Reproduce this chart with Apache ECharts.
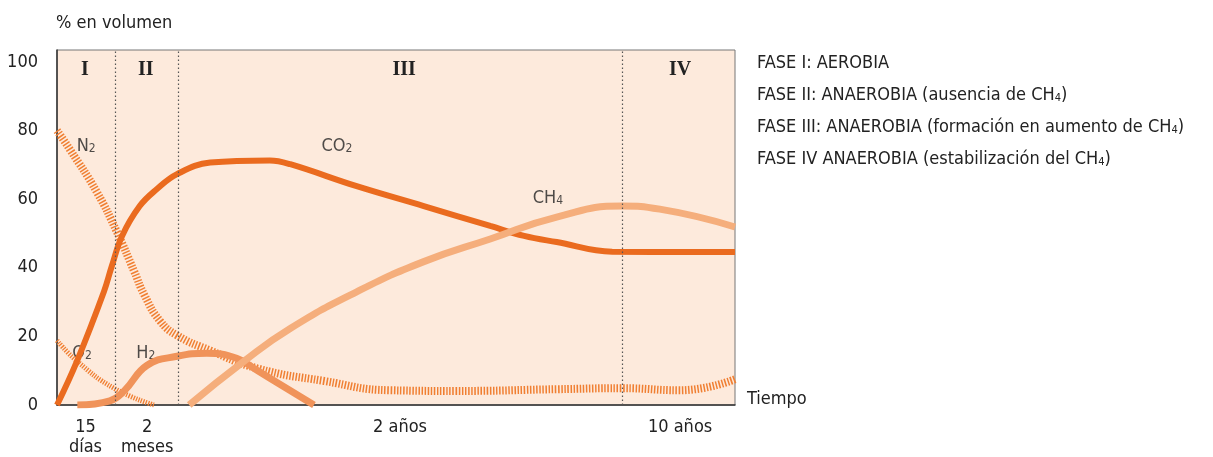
<!DOCTYPE html>
<html lang="es">
<head>
	<meta charset="utf-8" />
	<title>Fases del gas de vertedero</title>
	<style>
		html, body { margin: 0; padding: 0; background: #fff; }
		#chart { width: 1213px; height: 457px; }
	</style>
</head>
<body>
	<div id="chart"></div>
	<script src="https://cdn.jsdelivr.net/npm/echarts@6/dist/echarts.min.js"></script>
	<script>
		var FONT = '"DejaVu Sans Condensed", "Liberation Sans", sans-serif';

		// x en escala 0-100 (eje de tiempo no lineal), y en % en volumen
		var co2 = [[0, 0], [2.95, 12.8], [6.93, 33.1], [8.1, 40.6], [9.6, 49.3], [12.2, 58], [14.7, 62.9],
			[17.7, 67.3], [22.6, 70.7], [31.4, 71.3], [34.4, 70.2], [44.2, 63.8], [54.1, 58],
			[63.9, 52.2], [68.9, 49.3], [73.7, 47.5], [81.9, 44.7], [100, 44.6]];
		var ch4 = [[19.5, 0], [27.6, 12.8], [34.4, 22.3], [44.2, 33], [54.1, 41.8], [63.9, 48.4],
			[73.7, 54.8], [83.3, 58], [88.9, 57.1], [100, 51.9]];
		var n2 = [[0, 80], [1.9, 74.5], [5.9, 62], [8.85, 50.4], [11.4, 38.9], [12.9, 32], [15.2, 24.5],
			[17.7, 20.3], [22.6, 15.9], [29.5, 10.7], [39.4, 7], [49.1, 4.3], [59, 4.1], [73.7, 4.6],
			[83.3, 4.9], [91.9, 4.3], [100, 7.5]];
		var o2 = [[0, 18.8], [2.95, 12.8], [8.4, 4.9], [14.3, 0]];
		var h2 = [[3, 0], [7.8, 1.2], [9.9, 4.1], [13.3, 11.6], [17.7, 14.2], [22.1, 15.1], [26.5, 13.6],
			[29.5, 10.1], [37.9, 0]];

		var phaseLimits = [8.55, 17.85, 83.3];
		var phaseCenters = [4.1, 13.1, 51.2, 91.9];
		var phaseNames = ['I', 'II', 'III', 'IV'];
		var timeTicks = [4.2, 13.3, 50.6, 91.9];
		var timeLabels = ['15\ndías', '2\nmeses', '2 años', '10 años'];

		// etiquetas de gases: [x, y, texto, subíndice]
		var gasLabels = [[4.3, 75.5, 'N', '2'], [41.3, 75.5, 'CO', '2'], [72.4, 60.2, 'CH', '4'],
			[3.7, 15, 'O', '2'], [13.1, 15, 'H', '2']];

		var phaseText = [
			['FASE I: AEROBIA', ''],
			['FASE II: ANAEROBIA (ausencia de CH', '4', ')'],
			['FASE III: ANAEROBIA (formación en aumento de CH', '4', ')'],
			['FASE IV ANAEROBIA (estabilización del CH', '4', ')']
		];

		var legendText = phaseText.map(function (p) {
			var s = '{t|' + p[0] + '}';
			if (p[1]) s += '{s|' + p[1] + '}{t|' + p[2] + '}';
			return s;
		}).join('\n');

		var myChart = echarts.init(document.getElementById('chart'));

		var option = {
			animation: false,
			textStyle: { fontFamily: FONT },
			title: [{
				text: '% en volumen',
				left: 51,
				top: 9,
				textStyle: { fontFamily: FONT, fontSize: 18, fontWeight: 'normal', color: '#222' }
			}, {
				text: legendText,
				left: 752,
				top: 42,
				textStyle: {
					fontWeight: 'normal',
					rich: {
						t: { fontFamily: FONT, fontSize: 18, fontWeight: 'normal', color: '#222', lineHeight: 32 },
						s: { fontFamily: FONT, fontSize: 11, fontWeight: 'normal', color: '#222', lineHeight: 32, padding: [6, 0, 0, 0] }
					}
				}
			}],
			grid: {
				left: 57,
				right: 478,
				top: 50,
				bottom: 50,
				show: true,
				backgroundColor: '#fdeadc',
				borderColor: '#777',
				borderWidth: 1
			},
			xAxis: [{
				type: 'value',
				min: 0,
				max: 100,
				splitLine: { show: false },
				axisTick: { show: false },
				axisLine: { show: true, lineStyle: { color: '#333', width: 1.5 } },
				name: 'Tiempo',
				nameLocation: 'end',
				nameGap: 12,
				nameTextStyle: { fontFamily: FONT, fontSize: 18, color: '#222', verticalAlign: 'bottom', lineHeight: 12 },
				axisLabel: {
					customValues: timeTicks,
					formatter: function (v) {
						var i = timeTicks.indexOf(v);
						return i >= 0 ? timeLabels[i] : '';
					},
					fontFamily: FONT,
					fontSize: 18,
					lineHeight: 20,
					color: '#222',
					margin: 12
				}
			}, {
				type: 'value',
				position: 'top',
				min: 0,
				max: 100,
				splitLine: { show: false },
				axisTick: { show: false },
				axisLine: { show: false },
				axisLabel: {
					inside: true,
					customValues: phaseCenters,
					formatter: function (v) {
						var i = phaseCenters.indexOf(v);
						return i >= 0 ? phaseNames[i] : '';
					},
					fontFamily: '"Liberation Serif", "DejaVu Serif", serif',
					fontWeight: 'bold',
					fontSize: 20,
					color: '#222',
					margin: 10
				}
			}],
			yAxis: {
				type: 'value',
				min: 0,
				max: 103.5,
				interval: 20,
				splitLine: { show: false },
				axisTick: { show: false },
				axisLine: { show: true, lineStyle: { color: '#333', width: 1.5 } },
				axisLabel: {
					formatter: function (v) { return v % 20 === 0 ? v : ''; },
					fontFamily: FONT,
					fontSize: 18,
					color: '#222',
					margin: 19
				}
			},
			series: [{
				name: 'N2',
				type: 'line',
				smooth: 0.5,
				symbol: 'none',
				data: n2,
				lineStyle: { color: '#f07f32', width: 8, type: [1.5, 1.6], cap: 'butt' },
				markLine: {
					silent: true,
					symbol: 'none',
					label: { show: false },
					lineStyle: { color: '#555', type: [1.5, 2.5], width: 1.2 },
					data: phaseLimits.map(function (x) { return { xAxis: x }; })
				}
			}, {
				name: 'O2',
				type: 'line',
				smooth: 0.5,
				symbol: 'none',
				data: o2,
				lineStyle: { color: '#f07f32', width: 5, type: [1.3, 1.3], cap: 'butt' }
			}, {
				name: 'H2',
				type: 'line',
				smooth: 0.45,
				symbol: 'none',
				data: h2,
				lineStyle: { color: '#f0935a', width: 7 }
			}, {
				name: 'CO2',
				type: 'line',
				smooth: 0.4,
				symbol: 'none',
				data: co2,
				lineStyle: { color: '#ea6b1f', width: 6 }
			}, {
				name: 'CH4',
				type: 'line',
				smooth: 0.5,
				symbol: 'none',
				data: ch4,
				lineStyle: { color: '#f5ae7c', width: 7 }
			}, {
				name: 'etiquetas',
				type: 'scatter',
				symbolSize: 0,
				silent: true,
				data: gasLabels,
				label: {
					show: true,
					position: 'inside',
					formatter: function (p) {
						return '{m|' + p.data[2] + '}{s|' + p.data[3] + '}';
					},
					rich: {
						m: { fontFamily: FONT, fontSize: 18, color: '#222' },
						s: { fontFamily: FONT, fontSize: 12, color: '#222', padding: [5, 0, 0, 0] }
					}
				}
			}]
		};

		myChart.setOption(option);
	</script>
</body>
</html>
